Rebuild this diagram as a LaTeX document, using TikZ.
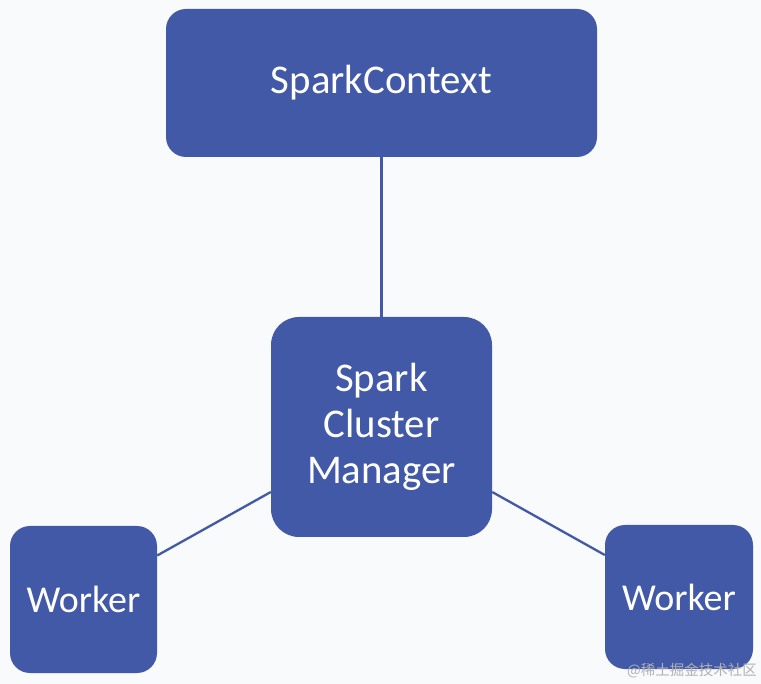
\documentclass[tikz,border=0pt]{standalone}
\usepackage{fontspec}
\setmainfont{Carlito}
\newfontfamily\cjkfont{Noto Sans CJK SC}
\definecolor{boxblue}{RGB}{66,89,168}
\definecolor{bgcol}{RGB}{249,250,251}
\begin{document}
\begin{tikzpicture}[x=1pt,y=-1pt,
  bluebox/.style={rectangle, fill=boxblue, draw=none, text=white, inner sep=0pt, align=center},
  link/.style={draw=boxblue, line width=2.3pt}]
\fill[bgcol] (0,0) rectangle (761,684);
\useasboundingbox (0,0) rectangle (761,684);
\node[bluebox, rounded corners=20pt, minimum width=431pt, minimum height=148pt,
  font=\fontsize{40.8pt}{46pt}\selectfont] (sc) at (381.5,83) {SparkContext};
\node[bluebox, rounded corners=28pt, minimum width=221pt, minimum height=220pt,
  font=\fontsize{40.8pt}{46pt}\selectfont] (mgr) at (381.5,427) {Spark\\Cluster\\Manager};
\node[bluebox, rounded corners=20pt, minimum width=147pt, minimum height=147pt,
  font=\fontsize{38pt}{44pt}\selectfont] (wl) at (83.5,599.5) {Worker};
\node[bluebox, rounded corners=20pt, minimum width=148pt, minimum height=144pt,
  font=\fontsize{38pt}{44pt}\selectfont] (wr) at (679,597) {Worker};
\draw[link] (sc.south) -- (mgr.north);
\draw[link] ([yshift=-65pt]mgr.west) -- ([yshift=44pt]wl.east);
\draw[link] ([yshift=-65pt]mgr.east) -- ([yshift=42pt]wr.west);
\node[anchor=base east, inner sep=0pt, text=black!30, font=\cjkfont\fontsize{14.5pt}{16pt}\selectfont] (wm) at (757,675) {@稀土掘金技术社区};
\end{tikzpicture}
\end{document}
